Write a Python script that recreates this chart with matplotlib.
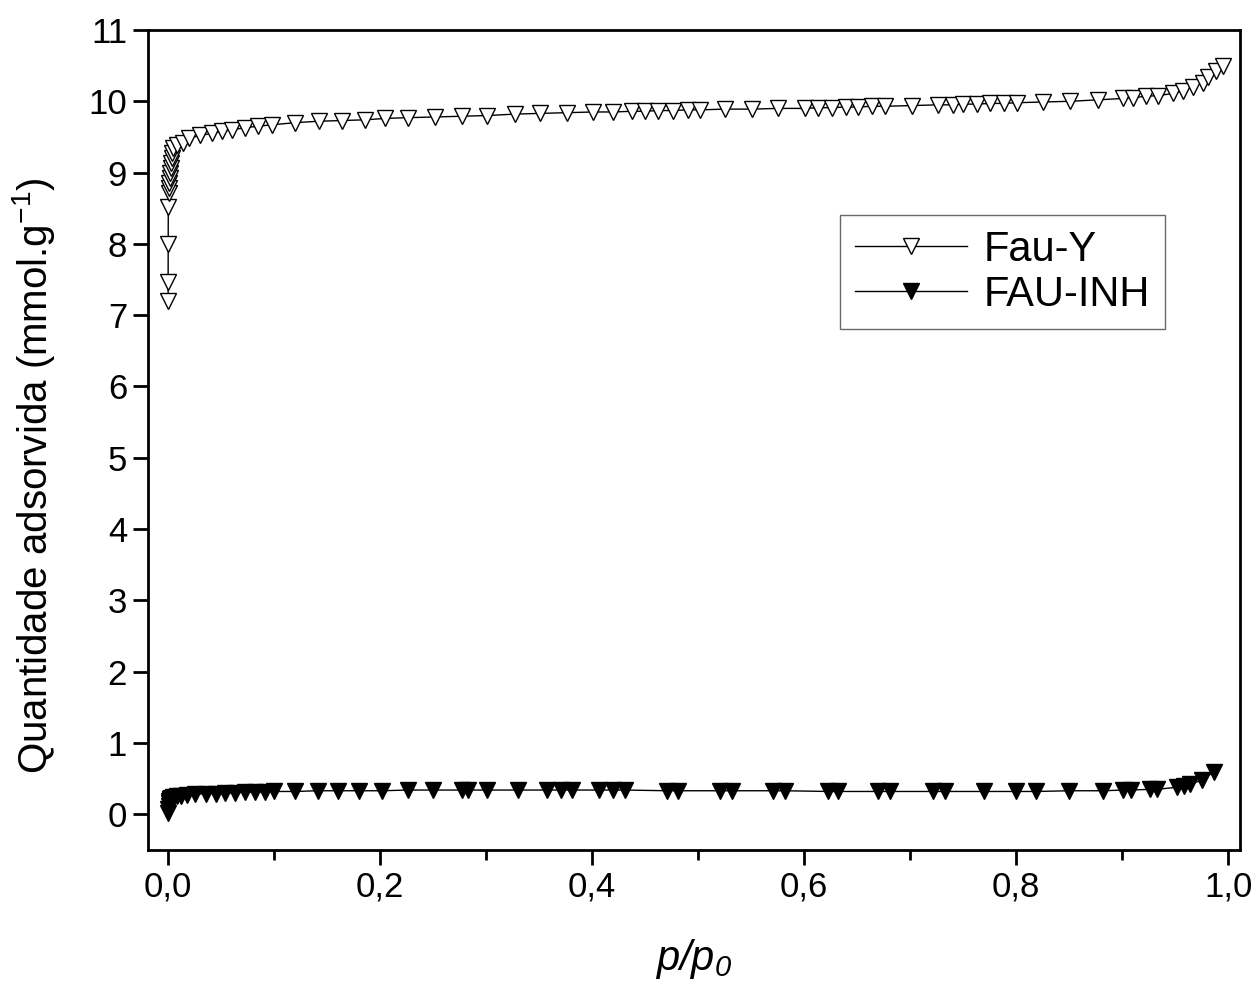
#!/usr/bin/env python3
# N2 adsorption isotherms: Fau-Y vs FAU-INH

import matplotlib
matplotlib.use("Agg")
import matplotlib.pyplot as plt
from matplotlib.ticker import MultipleLocator, FuncFormatter

# ---- data ----
fauy_x = [0.00002, 0.00005, 0.0001, 0.0002, 0.0005, 0.0008, 0.0012, 0.0016,
          0.002, 0.0025, 0.003, 0.0035, 0.004, 0.005, 0.008, 0.014, 0.02, 0.03,
          0.0415, 0.051, 0.060, 0.073, 0.085, 0.098, 0.120, 0.142, 0.164,
          0.186, 0.205, 0.226, 0.252, 0.277, 0.301, 0.327, 0.351, 0.376,
          0.401, 0.420, 0.438, 0.450, 0.462, 0.476, 0.490, 0.502, 0.525,
          0.551, 0.575, 0.601, 0.613, 0.626, 0.639, 0.651, 0.664, 0.676,
          0.702, 0.726, 0.740, 0.750, 0.763, 0.775, 0.788, 0.801, 0.825,
          0.851, 0.877, 0.901, 0.910, 0.922, 0.934, 0.948, 0.957, 0.967,
          0.976, 0.981, 0.988, 0.995]
fauy_y = [7.20, 7.46, 8.00, 8.52, 8.72, 8.79, 8.86, 8.93,
          9.00, 9.07, 9.14, 9.21, 9.28, 9.34, 9.38, 9.42, 9.48, 9.52,
          9.55, 9.58, 9.60, 9.63, 9.65, 9.67, 9.70, 9.72, 9.73,
          9.74, 9.76, 9.77, 9.78, 9.79, 9.80, 9.82, 9.83, 9.84,
          9.85, 9.85, 9.86, 9.86, 9.87, 9.87, 9.88, 9.88, 9.89,
          9.89, 9.90, 9.90, 9.91, 9.91, 9.92, 9.92, 9.93, 9.93,
          9.94, 9.95, 9.95, 9.96, 9.96, 9.97, 9.97, 9.98, 9.99,
          10.00, 10.02, 10.04, 10.05, 10.07, 10.08, 10.11, 10.15, 10.20,
          10.26, 10.34, 10.43, 10.50]

inh_x = [0.0001, 0.0002, 0.0004, 0.0007, 0.001, 0.0015, 0.002, 0.003,
         0.005, 0.008, 0.012, 0.018, 0.025, 0.036, 0.045, 0.054, 0.063,
         0.073, 0.082, 0.091, 0.100, 0.120, 0.141, 0.160, 0.180, 0.202,
         0.226, 0.250, 0.277, 0.283, 0.301, 0.330, 0.357, 0.371, 0.381,
         0.406, 0.420, 0.431, 0.471, 0.481, 0.521, 0.532, 0.571, 0.582,
         0.622, 0.632, 0.670, 0.681, 0.721, 0.733, 0.770, 0.800, 0.819,
         0.850, 0.882, 0.901, 0.908, 0.926, 0.933, 0.952, 0.958, 0.964,
         0.975, 0.986]
inh_y = [0.02, 0.08, 0.12, 0.16, 0.19, 0.21, 0.22, 0.23,
         0.24, 0.25, 0.26, 0.27, 0.28, 0.29, 0.29, 0.30, 0.30,
         0.31, 0.31, 0.31, 0.32, 0.32, 0.33, 0.33, 0.33, 0.33,
         0.34, 0.34, 0.34, 0.34, 0.34, 0.34, 0.34, 0.34, 0.34,
         0.34, 0.34, 0.34, 0.33, 0.33, 0.33, 0.33, 0.33, 0.33,
         0.32, 0.32, 0.32, 0.32, 0.32, 0.32, 0.32, 0.32, 0.32,
         0.33, 0.33, 0.34, 0.34, 0.35, 0.35, 0.38, 0.40, 0.42,
         0.48, 0.59]

# ---- style ----
plt.rcParams.update({
    "font.family": ["Liberation Sans", "DejaVu Sans"],
    "mathtext.fontset": "custom",
    "mathtext.rm": "Liberation Sans",
    "mathtext.it": "Liberation Sans:italic",
    "axes.linewidth": 2.0,
})

fig = plt.figure(figsize=(12.58, 9.86), dpi=100)
ax = fig.add_axes([0.1176, 0.138, 0.8681, 0.8316])

ax.plot(fauy_x, fauy_y, color="black", linewidth=1.0, marker="v",
        markersize=11, markerfacecolor="white", markeredgecolor="black",
        markeredgewidth=1.0, label="Fau-Y")
ax.plot(inh_x, inh_y, color="black", linewidth=1.0, marker="v",
        markersize=11, markerfacecolor="black", markeredgecolor="black",
        label="FAU-INH")

ax.set_xlim(-0.019, 1.011)
ax.set_ylim(-0.5, 11)
ax.xaxis.set_major_locator(MultipleLocator(0.2))
ax.xaxis.set_minor_locator(MultipleLocator(0.1))
ax.yaxis.set_major_locator(MultipleLocator(1))
ax.xaxis.set_major_formatter(FuncFormatter(lambda v, _: f"{v:.1f}".replace(".", ",")))
ax.yaxis.set_major_formatter(FuncFormatter(lambda v, _: f"{v:.0f}"))

ax.tick_params(axis="both", which="major", direction="out", length=11,
               width=2.0, labelsize=25, pad=4)
ax.tick_params(axis="x", which="minor", direction="out", length=7, width=2.0)
ax.tick_params(top=False, right=False)

ax.set_ylabel("Quantidade adsorvida (mmol.g$^{-1}$)", fontsize=29)
ax.yaxis.set_label_coords(-0.083, 0.457)
ax.set_xlabel(r"p/p$_\mathregular{0}$", fontsize=30, fontstyle="italic",
              labelpad=24)

leg = ax.legend(loc="upper left", bbox_to_anchor=(0.634, 0.774), fontsize=30,
                frameon=True, fancybox=False, edgecolor="#444444",
                handlelength=2.7, handletextpad=0.4, borderpad=0.35,
                labelspacing=0.12, borderaxespad=0)
leg.get_frame().set_linewidth(1.0)

fig.savefig("out.png", dpi=100)
